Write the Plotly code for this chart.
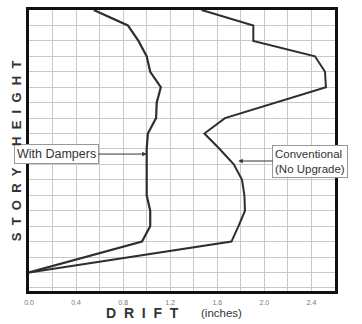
import plotly.graph_objects as go

# story levels (grid units) and drift in inches
damper_story = [0, 2, 3, 4, 5, 6, 7, 8, 9, 10, 11, 12, 13, 14, 15, 16, 17]
damper_drift = [0.0, 0.96, 1.03, 1.03, 1.0, 1.0, 1.0, 1.0, 1.01, 1.08, 1.085, 1.12, 1.03, 1.0, 0.93, 0.84, 0.55]

conv_story = [0, 2, 3, 4, 5, 6, 7, 8, 9, 10, 12, 13, 14, 15, 16, 17]
conv_drift = [0.0, 1.72, 1.78, 1.835, 1.83, 1.81, 1.74, 1.62, 1.49, 1.665, 2.523, 2.515, 2.43, 1.906, 1.906, 1.467]

x_ticks = [0.0, 0.4, 0.8, 1.2, 1.6, 2.0, 2.4]
x_labels = ["0.0", "0.4", "0.8", "1.2", "1.6", "2.0", "2.4"]

FONT = "Liberation Sans"
LINE = "#2e2e2e"
GRID = "#c9c9c9"
SP = "&nbsp;"


def spaced(word, gap=2):
    return (SP * gap).join(word)


def main() -> None:
    fig = go.Figure()

    fig.add_trace(go.Scatter(x=damper_drift, y=damper_story, mode="lines",
                             line=dict(color=LINE, width=2.2), name="With Dampers"))
    fig.add_trace(go.Scatter(x=conv_drift, y=conv_story, mode="lines",
                             line=dict(color=LINE, width=2), name="Conventional"))

    fig.update_layout(
        width=362, height=324,
        margin=dict(l=29, r=27, t=7, b=33),
        paper_bgcolor="white", plot_bgcolor="white",
        showlegend=False,
        font=dict(family=FONT, color="#333"),
        xaxis=dict(
            range=[0, 2.6], tickvals=x_ticks, ticktext=x_labels,
            tickfont=dict(size=7, color="#777"),
            showgrid=True, gridcolor=GRID, gridwidth=1.3,
            minor=dict(dtick=0.2, tick0=0, showgrid=True, gridcolor=GRID, gridwidth=1.3),
            showline=True, mirror=True, linecolor="#111", linewidth=2.5,
            zeroline=False, ticks="", ticklabelstandoff=3, fixedrange=True,
        ),
        yaxis=dict(
            range=[-1.2, 17.0], dtick=1, tick0=0, showticklabels=False,
            showgrid=True, gridcolor=GRID, gridwidth=1.3,
            showline=True, mirror=True, linecolor="#111", linewidth=2.5,
            zeroline=False, ticks="", fixedrange=True,
        ),
    )

    # callout boxes with arrows
    fig.add_annotation(x=1.0, y=7.67, ax=-90, ay=0, text="With Dampers",
                       showarrow=True, arrowhead=2, arrowsize=0.9, arrowwidth=1,
                       arrowcolor="#333", font=dict(size=12.5, color="#333"),
                       bgcolor="white", bordercolor="#999", borderwidth=1, borderpad=2)
    fig.add_annotation(x=1.778, y=7.22, ax=72, ay=0, text="Conventional<br>(No Upgrade)",
                       align="left", showarrow=True, arrowhead=2, arrowsize=0.9, arrowwidth=1,
                       arrowcolor="#333", font=dict(size=11.5, color="#333"),
                       bgcolor="white", bordercolor="#999", borderwidth=1, borderpad=2)

    # axis titles
    fig.add_annotation(xref="paper", yref="paper", x=0.497, y=-0.08, yanchor="middle",
                       xanchor="right", text="<b>" + spaced("DRIFT") + "</b>",
                       showarrow=False, font=dict(size=14, color="#333"))
    fig.add_annotation(xref="paper", yref="paper", x=0.556, y=-0.08, yanchor="middle",
                       xanchor="left", text="(inches)", showarrow=False,
                       font=dict(size=11.5, color="#333"))
    fig.add_annotation(xref="paper", yref="paper", x=-0.04, y=0.5, xanchor="center",
                       text="<b>" + spaced("STORY") + SP * 6 + spaced("HEIGHT") + "</b>",
                       textangle=-90, showarrow=False, font=dict(size=13, color="#333"))

    # page body has a default 8px margin; remove it so the figure sits at the corner
    fig.write_html("out.html", config={"displayModeBar": False},
                   post_script="document.body.style.margin='0';")


if __name__ == "__main__":
    main()
